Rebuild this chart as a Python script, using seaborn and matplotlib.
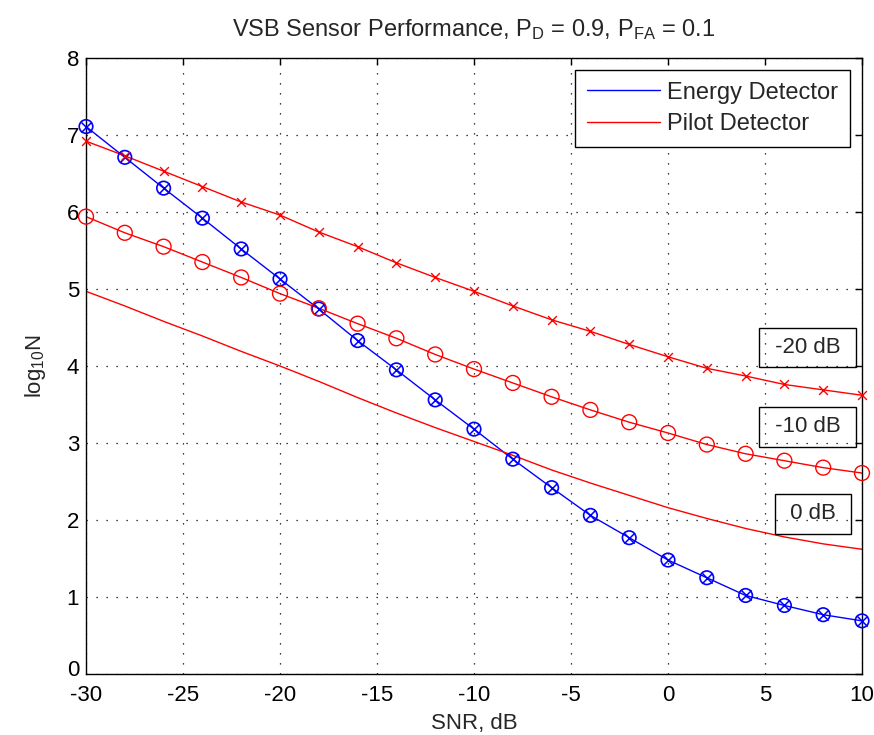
import matplotlib
matplotlib.use("Agg")
import matplotlib.pyplot as plt
import matplotlib.transforms as mtrans
import seaborn as sns
import pandas as pd
import numpy as np

# ---- data ----
snr_db = [-30, -28, -26, -24, -22, -20, -18, -16, -14, -12, -10,
          -8, -6, -4, -2, 0, 2, 4, 6, 8, 10]
energy = [7.11, 6.71, 6.31, 5.92, 5.52, 5.13, 4.74, 4.33, 3.95, 3.56, 3.18,
          2.79, 2.42, 2.06, 1.77, 1.48, 1.25, 1.02, 0.89, 0.77, 0.69]
pilot_m20 = [6.92, 6.73, 6.53, 6.33, 6.13, 5.96, 5.74, 5.55, 5.34, 5.15, 4.97,
             4.78, 4.60, 4.45, 4.28, 4.12, 3.97, 3.87, 3.76, 3.69, 3.62]
pilot_m10 = [5.94, 5.73, 5.55, 5.35, 5.15, 4.94, 4.75, 4.55, 4.36, 4.15, 3.96,
             3.78, 3.60, 3.43, 3.27, 3.13, 2.98, 2.86, 2.77, 2.68, 2.61]
pilot_0 = [4.97, 4.78, 4.58, 4.39, 4.19, 4.00, 3.80, 3.59, 3.39, 3.20, 3.02,
           2.84, 2.65, 2.48, 2.32, 2.16, 2.02, 1.89, 1.78, 1.69, 1.62]
xticks = [-30, -25, -20, -15, -10, -5, 0, 5, 10]
yticks = [0, 1, 2, 3, 4, 5, 6, 7, 8]
annot_labels = ["-20 dB", "-10 dB", "0 dB"]
annot_x = [7.2, 7.2, 7.47]
annot_y = [4.24, 3.21, 2.08]

df = pd.DataFrame({"snr": snr_db, "energy": energy, "m20": pilot_m20,
                   "m10": pilot_m10, "p0": pilot_0})

sns.set_theme(style="white")
plt.rcParams["font.family"] = ["Liberation Sans", "DejaVu Sans"]
plt.rcParams["mathtext.fontset"] = "custom"
plt.rcParams["mathtext.rm"] = "Liberation Sans"
plt.rcParams["mathtext.it"] = "Liberation Sans"

FS = 16

fig = plt.figure(figsize=(8.74, 7.35), dpi=100)
ax = fig.add_axes([86 / 874, 1 - 674 / 735, (862 - 86) / 874, (674 - 58) / 735])

blue = (0, 0, 1)
red = (1, 0, 0)
lw = 1.0

sns.lineplot(data=df, x="snr", y="energy", ax=ax, color=blue, lw=lw,
             label="Energy Detector")
sns.lineplot(data=df, x="snr", y="m20", ax=ax, color=red, lw=lw,
             label="Pilot Detector")
sns.lineplot(data=df, x="snr", y="m10", ax=ax, color=red, lw=lw, legend=False)
sns.lineplot(data=df, x="snr", y="p0", ax=ax, color=red, lw=lw, legend=False)

# markers
ax.scatter(df["snr"], df["energy"], s=95, marker="o", facecolors="none",
           edgecolors=blue, linewidths=1.2, clip_on=False, zorder=3)
ax.scatter(df["snr"], df["energy"], s=55, marker="x", color=blue,
           linewidths=1.1, clip_on=False, zorder=3)
ax.scatter(df["snr"], df["m20"], s=40, marker="x", color=red,
           linewidths=1.0, clip_on=False, zorder=3)
ax.scatter(df["snr"], df["m10"], s=115, marker="o", facecolors="none",
           edgecolors=red, linewidths=1.0, clip_on=False, zorder=3)

ax.set_xlim(-30, 10)
ax.set_ylim(0, 8)
ax.set_xticks(xticks)
ax.set_yticks(yticks)
ax.set_xticklabels([str(t) for t in xticks])
ax.set_yticklabels([str(t) for t in yticks])
ax.grid(True, color="black", linestyle=(0, (1, 7)), linewidth=0.9)
for s in ax.spines.values():
    s.set_color("black")
    s.set_linewidth(1.0)
ax.tick_params(direction="in", length=5, width=1, colors="black",
               top=True, right=True, labelsize=FS)
ax.tick_params(axis="x", pad=8)
ax.tick_params(axis="y", pad=5)

# lift the "0" y tick label slightly so it sits above "-30"
zero_lbl = ax.yaxis.get_major_ticks()[0].label1
zero_lbl.set_transform(zero_lbl.get_transform() +
                       mtrans.ScaledTranslation(0, 4 / 72, fig.dpi_scale_trans))

ax.set_xlabel("SNR, dB", fontsize=FS, labelpad=5)
ax.set_ylabel(r"log$_{\mathrm{10}}$N", fontsize=FS, labelpad=13)
ax.set_title(r"VSB Sensor Performance, P$_{\mathrm{D}}$ = 0.9, P$_{\mathrm{FA}}$ = 0.1",
             fontsize=17, pad=16)

for lab, xx, yy in zip(annot_labels, annot_x, annot_y):
    ax.text(xx, yy, " " + lab + " ", ha="center", va="center", fontsize=FS,
            bbox=dict(boxstyle="square,pad=0.42", facecolor="none",
                      edgecolor="black", linewidth=1.0), zorder=4)

leg = ax.legend(loc="upper right", fontsize=17, frameon=True, fancybox=False,
                edgecolor="black", framealpha=1, handlelength=3.1,
                borderaxespad=0.5, handletextpad=0.3, labelspacing=0.4,
                borderpad=0.5)
leg.get_frame().set_linewidth(1.0)

fig.savefig("out.png", dpi=100)
